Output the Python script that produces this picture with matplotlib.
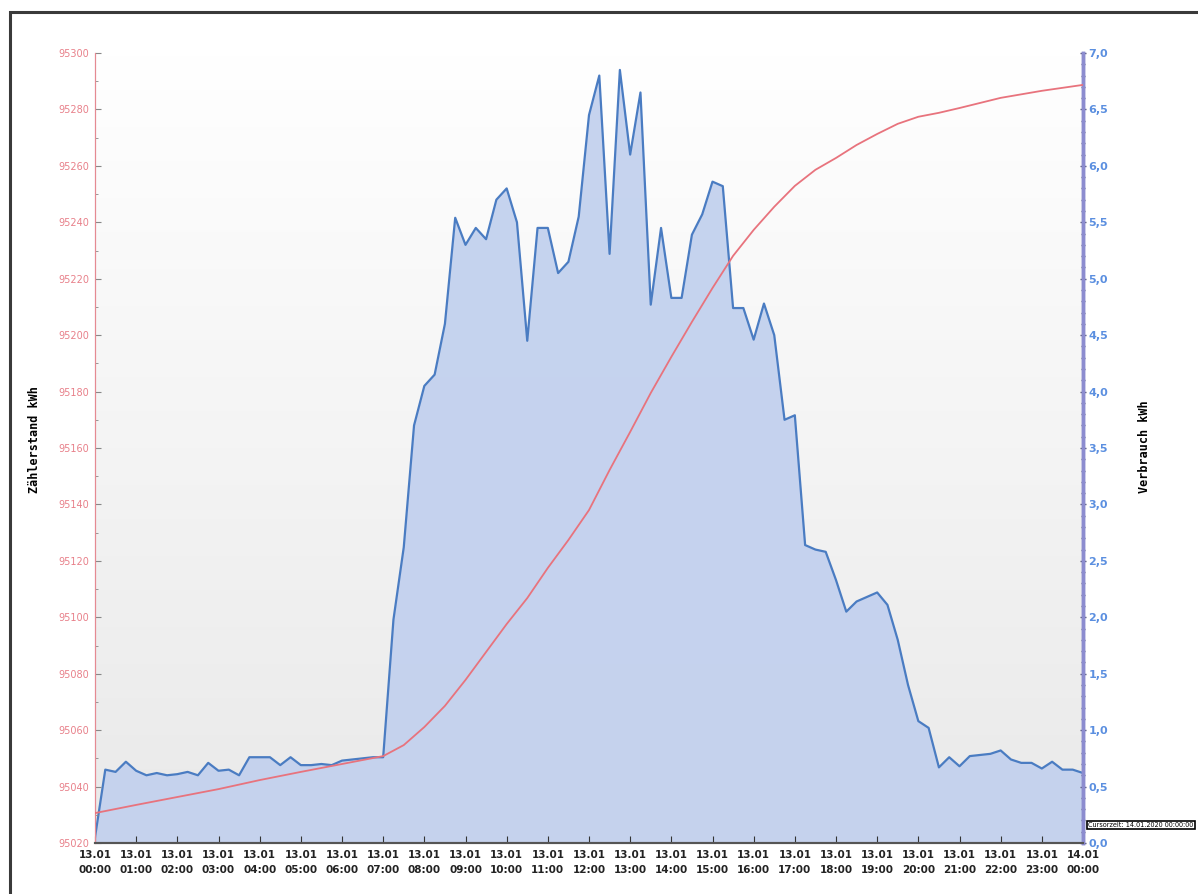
import numpy as np
import pandas as pd
import matplotlib
matplotlib.use("Agg")
import matplotlib.pyplot as plt
import matplotlib.dates as mdates
from matplotlib.colors import LinearSegmentedColormap
from matplotlib.patches import Rectangle

# ---------------- DATA ----------------
# Verbrauch (kWh per 15 min), 13.01 00:00 .. 14.01 00:00
verbrauch = [
    0.05, 0.65, 0.63, 0.72, 0.64, 0.60, 0.62, 0.60,   # 00:00 - 01:45
    0.61, 0.63, 0.60, 0.71, 0.64, 0.65, 0.60, 0.76,   # 02:00 - 03:45
    0.76, 0.76, 0.69, 0.76, 0.69, 0.69, 0.70, 0.69,   # 04:00 - 05:45
    0.73, 0.74, 0.75, 0.76, 0.76, 1.98, 2.62, 3.70,   # 06:00 - 07:45
    4.05, 4.15, 4.60, 5.54, 5.30, 5.45, 5.35, 5.70,   # 08:00 - 09:45
    5.80, 5.50, 4.45, 5.45, 5.45, 5.05, 5.15, 5.55,   # 10:00 - 11:45
    6.45, 6.80, 5.22, 6.85, 6.10, 6.65, 4.77, 5.45,   # 12:00 - 13:45
    4.83, 4.83, 5.39, 5.57, 5.86, 5.82, 4.74, 4.74,   # 14:00 - 15:45
    4.46, 4.78, 4.50, 3.75, 3.79, 2.64, 2.60, 2.58,   # 16:00 - 17:45
    2.33, 2.05, 2.14, 2.18, 2.22, 2.11, 1.80, 1.40,   # 18:00 - 19:45
    1.08, 1.02, 0.67, 0.76, 0.68, 0.77, 0.78, 0.79,   # 20:00 - 21:45
    0.82, 0.74, 0.71, 0.71, 0.66, 0.72, 0.65, 0.65,   # 22:00 - 23:45
    0.62,                                             # 24:00
]
verbrauch_times = pd.date_range("2020-01-13 00:00", periods=len(verbrauch), freq="15min")

# Zaehlerstand (kWh meter reading)
zaehler_times = pd.to_datetime([
    "2020-01-13 00:00", "2020-01-13 01:00", "2020-01-13 02:00", "2020-01-13 03:00",
    "2020-01-13 04:00", "2020-01-13 05:00", "2020-01-13 06:00", "2020-01-13 07:00",
    "2020-01-13 07:30", "2020-01-13 08:00", "2020-01-13 08:30", "2020-01-13 09:00",
    "2020-01-13 09:30", "2020-01-13 10:00", "2020-01-13 10:30", "2020-01-13 11:00",
    "2020-01-13 11:30", "2020-01-13 12:00", "2020-01-13 12:30", "2020-01-13 13:00",
    "2020-01-13 13:30", "2020-01-13 14:00", "2020-01-13 14:30", "2020-01-13 15:00",
    "2020-01-13 15:30", "2020-01-13 16:00", "2020-01-13 16:30", "2020-01-13 17:00",
    "2020-01-13 17:30", "2020-01-13 18:00", "2020-01-13 18:30", "2020-01-13 19:00",
    "2020-01-13 19:30", "2020-01-13 20:00", "2020-01-13 20:30", "2020-01-13 21:00",
    "2020-01-13 22:00", "2020-01-13 23:00", "2020-01-14 00:00",
])
zaehler = [
    95030.6, 95033.5, 95036.3, 95039.1, 95042.3, 95045.2, 95048.0, 95050.8,
    95054.7, 95061.1, 95068.6, 95077.8, 95087.7, 95097.6, 95106.8, 95117.5,
    95127.4, 95138.0, 95152.2, 95165.7, 95179.5, 95192.3, 95204.7, 95216.7,
    95228.1, 95237.3, 95245.5, 95252.9, 95258.6, 95262.8, 95267.4, 95271.3,
    95274.9, 95277.4, 95278.8, 95280.5, 95284.1, 95286.6, 95288.7,
]
# ---------------------------------------

W, H = 1198, 894
fig = plt.figure(figsize=(W / 100, H / 100), dpi=100)
fig.patch.set_facecolor("white")

# scanned page frame
fig.add_artist(Rectangle((10 / W, -0.05), 1.1, 1 - 12 / H + 0.05, transform=fig.transFigure,
                         fill=False, edgecolor="#3a3a3a", linewidth=2.2))

left, right, top, bottom = 95, 1083, 53, 843
ax = fig.add_axes([left / W, 1 - bottom / H, (right - left) / W, (bottom - top) / H])
ax2 = ax.twinx()

t0, t1 = verbrauch_times[0], verbrauch_times[-1]
x0, x1 = mdates.date2num(t0), mdates.date2num(t1)

# background gradient (white top -> light grey bottom)
grad = np.linspace(1, 0, 256).reshape(-1, 1)
cmap = LinearSegmentedColormap.from_list("bg", ["#e9e9e9", "#ffffff"])
ax.imshow(grad, extent=[x0, x1, 0, 7], aspect="auto", cmap=cmap, zorder=0)
ax.patch.set_visible(False)

# Verbrauch area (right axis)
ax.fill_between(verbrauch_times, 0, verbrauch, color="#c3d1ee", alpha=0.95, zorder=1, linewidth=0)
ax.plot(verbrauch_times, verbrauch, color="#4a7cc2", linewidth=1.6, zorder=2)
ax.set_ylim(0, 7)
ax.set_xlim(t0, t1)
ax.yaxis.tick_right()
ax.set_yticks(np.arange(0, 7.01, 0.5))
ax.set_yticks(np.arange(0, 7.01, 0.1), minor=True)
ax.set_yticklabels([f"{v:.1f}".replace(".", ",") for v in np.arange(0, 7.01, 0.5)],
                   color="#5b8fe0", fontsize=8, fontweight="bold")
ax.tick_params(axis="y", which="both", direction="inout", color="#555577", length=4, width=1, pad=2)
ax.tick_params(axis="y", which="minor", length=3)

# Zaehlerstand line (left axis)
ax2.plot(zaehler_times, zaehler, color="#e8737d", linewidth=1.3, zorder=3)
ax2.set_ylim(95020, 95300)
ax2.yaxis.tick_left()
ax2.set_yticks(np.arange(95020, 95301, 20))
ax2.set_yticks(np.arange(95020, 95301, 10), minor=True)
ax2.set_yticklabels([str(v) for v in range(95020, 95301, 20)], color="#e8808a",
                    fontsize=7, family="Liberation Sans Narrow")
ax2.tick_params(axis="y", which="both", direction="in", color="#888888", length=4, pad=4)
ax2.tick_params(axis="y", which="minor", length=2)

# x axis
ax.xaxis.set_major_locator(mdates.HourLocator(interval=1))
ax.xaxis.set_major_formatter(mdates.DateFormatter("%d.%m\n%H:%M"))
ax.tick_params(axis="x", direction="in", length=5, color="#333333", pad=5)
for lbl in ax.get_xticklabels():
    lbl.set_fontsize(7.5)
    lbl.set_fontweight("bold")
    lbl.set_family("Liberation Sans Narrow")
    lbl.set_color("#222222")
    lbl.set_linespacing(1.6)

for a in (ax, ax2):
    a.spines["top"].set_visible(False)
    a.spines["left"].set_color("#e58a92")
    a.spines["right"].set_color("#8c8ccf")
    a.spines["right"].set_linewidth(2.5)
    a.spines["bottom"].set_color("#555555")
    a.spines["bottom"].set_linewidth(1.5)

# axis titles
fig.text(35 / W, 1 - 440 / H, "Zählerstand kWh", rotation=90, ha="center", va="center",
         fontsize=8.5, fontweight="bold", family="DejaVu Sans Mono")
fig.text(1145 / W, 1 - 447 / H, "Verbrauch kWh", rotation=90, ha="center", va="center",
         fontsize=8.5, fontweight="bold", family="DejaVu Sans Mono")

# cursor tooltip
fig.text(1088 / W, 1 - 825 / H, "Cursorzeit: 14.01.2020 00:00:00", ha="left", va="center",
         fontsize=4.7, family="Liberation Sans Narrow",
         bbox=dict(boxstyle="square,pad=0.2", facecolor="white", edgecolor="black", linewidth=1.2))

fig.savefig("out.png", dpi=100)
